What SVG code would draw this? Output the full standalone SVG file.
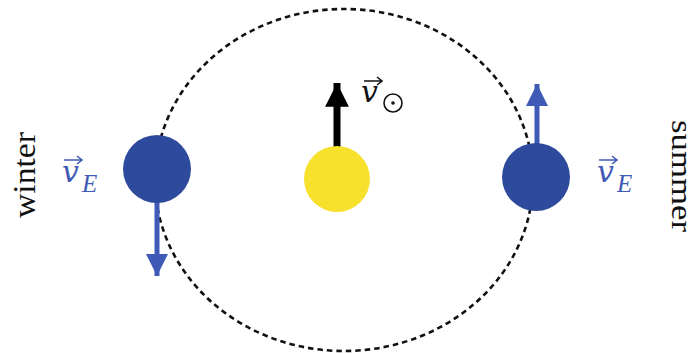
<svg xmlns="http://www.w3.org/2000/svg" width="698" height="354" viewBox="0 0 698 354">
<style>
.orbit{fill:none;stroke:#111;stroke-width:2.6;stroke-dasharray:5.5 4}
.earth{fill:#2e4a9c}
.lbl{font-family:"Liberation Serif",serif;font-size:31px;fill:#111}
.math{font-family:"DejaVu Serif","Liberation Serif",serif;font-style:italic;font-size:30px}
.sub{font-family:"Liberation Serif",serif;font-style:italic;font-size:25px}
</style>
<defs>
<marker id="ab" viewBox="0 0 10 10" refX="10" refY="5" markerWidth="4.4" markerHeight="4.4" markerUnits="strokeWidth" orient="auto"><path d="M0,0 L10,5 L0,10 Z" fill="#3f5bb5"/></marker>
<marker id="ak" viewBox="0 0 10 10" refX="10" refY="5" markerWidth="3.4" markerHeight="3.6" markerUnits="strokeWidth" orient="auto"><path d="M0,0 L10,5 L0,10 Z" fill="#000"/></marker>
</defs>
<g id="connectors">
<ellipse class="orbit" cx="344" cy="180" rx="189" ry="171"/>
<line x1="157" y1="200" x2="157" y2="276" stroke="#3f5bb5" stroke-width="5" marker-end="url(#ab)"/>
<line x1="537" y1="146" x2="537" y2="84" stroke="#3f5bb5" stroke-width="5" marker-end="url(#ab)"/>
<line x1="337" y1="150" x2="337" y2="83" stroke="#000" stroke-width="7" marker-end="url(#ak)"/>
</g>
<g id="sun">
<circle cx="337" cy="179" r="33" fill="#f7e12c"/>
<text class="math" x="361" y="102" fill="#111">v</text>
<path d="M364,81 H381 M377,77 L382,81 L377,85" stroke="#111" stroke-width="1.6" fill="none"/>
<circle cx="393" cy="103" r="9" fill="none" stroke="#111" stroke-width="1.6"/>
<circle cx="393" cy="103" r="1.8" fill="#111"/>
</g>
<g id="earth-winter">
<circle class="earth" cx="157" cy="169" r="34"/>
<text class="math" x="62" y="182" fill="#3f5bb5">v</text>
<path d="M64,160 H81 M77,156 L82,160 L77,164" stroke="#3f5bb5" stroke-width="1.6" fill="none"/>
<text class="sub" x="82" y="192" fill="#3f5bb5">E</text>
</g>
<g id="earth-summer">
<circle class="earth" cx="536" cy="177" r="34"/>
<text class="math" x="597" y="182" fill="#3f5bb5">v</text>
<path d="M599,160 H616 M612,156 L617,160 L612,164" stroke="#3f5bb5" stroke-width="1.6" fill="none"/>
<text class="sub" x="617" y="192" fill="#3f5bb5">E</text>
</g>
<g id="label-winter">
<text class="lbl" transform="translate(35,175) rotate(-90)" text-anchor="middle" textLength="86" lengthAdjust="spacingAndGlyphs">winter</text>
</g>
<g id="label-summer">
<text class="lbl" style="font-size:29px" transform="translate(672,176) rotate(90)" text-anchor="middle" textLength="112" lengthAdjust="spacingAndGlyphs">summer</text>
</g>
</svg>
